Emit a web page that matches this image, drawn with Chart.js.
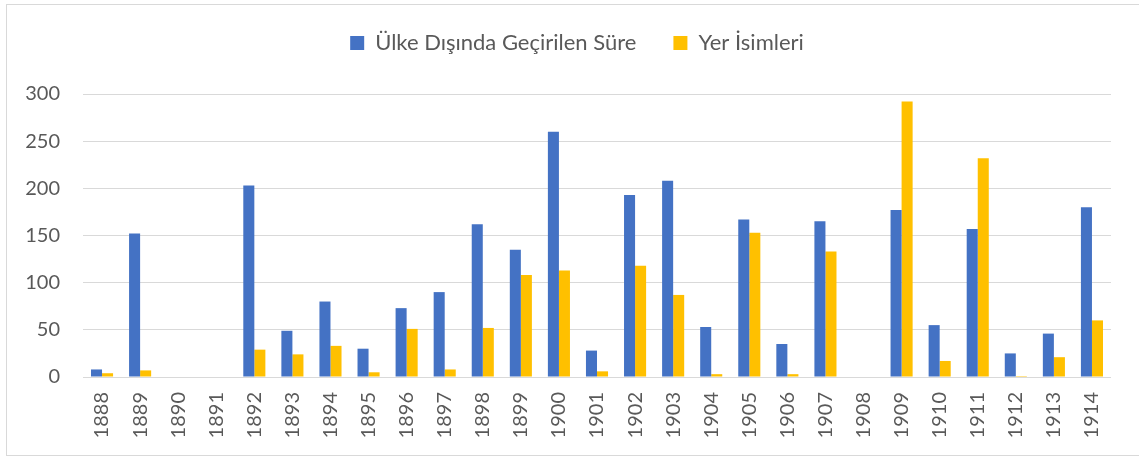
<!DOCTYPE html>
<html>
<head>
<meta charset="utf-8">
<script src="https://cdn.jsdelivr.net/npm/chart.js@4"></script>
<style>
  body { margin: 0; background: #fff; }
  #frame { position: absolute; left: 6px; top: 4px; width: 1140px; height: 450px; border: 1px solid #d9d9d9; border-right: none; }
  #wrap { position: absolute; left: 7px; top: -5px; width: 1132px; height: 460px; }
</style>
</head>
<body>
<div id="frame"></div>
<div id="wrap"><canvas id="chart"></canvas></div>
<script>
const years = ["1888", "1889", "1890", "1891", "1892", "1893", "1894", "1895", "1896", "1897", "1898", "1899", "1900", "1901",
  "1902", "1903", "1904", "1905", "1906", "1907", "1908", "1909", "1910", "1911", "1912", "1913", "1914"];
const time_abroad = [8, 152, 0, 0, 203, 49, 80, 30, 73, 90, 162, 135, 260, 28,
  193, 208, 53, 167, 35, 165, 0, 177, 55, 157, 25, 46, 180];
const place_names = [4, 7, 0, 0, 29, 24, 33, 5, 51, 8, 52, 108, 113, 6,
  118, 87, 3, 153, 3, 133, 0, 292, 17, 232, 1, 21, 60];

const text_color = "#595959";
const grid_color = "#d9d9d9";
const label_font = { family: "Lato", size: 20 };

// legend sits higher and a bit more right than chart.js wants
const legend_fix = {
  id: "legendFix",
  beforeLayout (chart) {
    if (chart.legend && !chart.legend._patched) {
      const fit = chart.legend.fit;
      chart.legend.fit = function () {
        fit.call(this);
        this.height += 30;
      };
      chart.legend._patched = true;
    }
  },
  afterLayout (chart) {
    chart.legend.left += 36;
  }
};

new Chart(document.getElementById("chart"), {
  type: "bar",
  data: {
    labels: years,
    datasets: [{
      label: "Ülke Dışında Geçirilen Süre",
      data: time_abroad,
      backgroundColor: "#4472C4"
    }, {
      label: "Yer İsimleri",
      data: place_names,
      backgroundColor: "#FFC000"
    }]
  },
  options: {
    responsive: true,
    maintainAspectRatio: false,
    animation: false,
    layout: { padding: { top: 0, left: 0, right: 28, bottom: 0 } },
    datasets: {
      bar: { categoryPercentage: 0.58, barPercentage: 1 }
    },
    plugins: {
      legend: {
        position: "top",
        labels: {
          boxWidth: 14,
          boxHeight: 14,
          padding: 37,
          color: text_color,
          font: { family: "Lato", size: 22 }
        }
      },
      tooltip: { enabled: false }
    },
    scales: {
      x: {
        grid: { display: false, drawTicks: false },
        border: { display: false },
        ticks: {
          color: text_color,
          font: label_font,
          minRotation: 90,
          maxRotation: 90,
          padding: 15,
          autoSkip: false
        },
        afterFit (scale) { scale.height = 78; }
      },
      y: {
        min: 0,
        max: 300,
        grid: { color: grid_color, lineWidth: 1, drawTicks: false },
        border: { display: false },
        ticks: {
          stepSize: 50,
          color: text_color,
          font: label_font,
          padding: 23
        },
        afterFit (scale) { scale.width = 76; }
      }
    }
  },
  plugins: [legend_fix]
});
</script>
</body>
</html>
